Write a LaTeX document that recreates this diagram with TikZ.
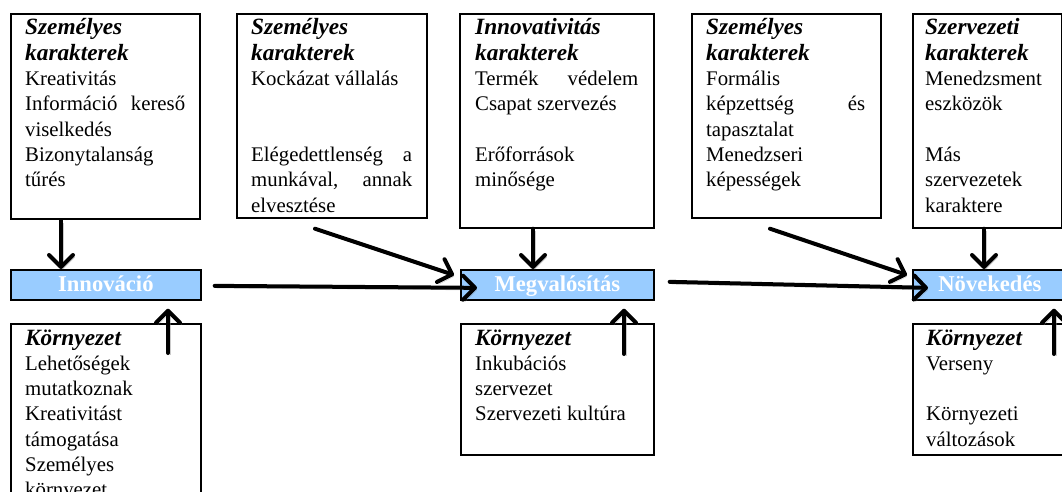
\documentclass[tikz,border=0pt]{standalone}
\usepackage{fontspec}
\setmainfont{Liberation Serif}
\usetikzlibrary{arrows.meta}
\setlength{\parindent}{0pt}
\definecolor{procblue}{RGB}{153,204,255}
\newcommand{\bodyfont}{\fontsize{20.8}{25.3}\selectfont}
\newcommand{\ttl}[1]{{\fontsize{23.3}{25.3}\selectfont\bfseries\itshape #1}}
\tikzset{
  box/.style={draw=black, line width=1.7pt, fill=white, anchor=north west, inner sep=0pt},
  proc/.style={draw=black, line width=1.7pt, fill=procblue, anchor=north west, inner sep=0pt,
    text=white, font=\fontsize{22.6}{24}\selectfont\bfseries, text height=15pt, text depth=2pt},
  txt/.style={anchor=base west, inner sep=0pt, font=\bodyfont, text=black},
  arr/.style={line width=4pt, line cap=round,
    -{Straight Barb[length=12pt,width=24pt,line cap=round,line join=round]},
    preaction={draw=black!45, opacity=0.45, transform canvas={shift={(1.8,2.2)}}}}
}
\begin{document}
\begin{tikzpicture}[x=1pt,y=-1pt]
\clip (0,0) rectangle (1062,492);
\fill[white] (0,0) rectangle (1062,492);
% top boxes
\node[box, minimum width=189pt, minimum height=205pt] (t1) at (10,13) {};
\node[box, minimum width=190pt, minimum height=204pt] (t2) at (236,13) {};
\node[box, minimum width=194pt, minimum height=214pt] (t3) at (459,13) {};
\node[box, minimum width=189pt, minimum height=204pt] (t4) at (691,13) {};
\node[box, minimum width=149pt, minimum height=214pt] (t5) at (912,13) {};
% process boxes
\node[proc, minimum width=190pt, minimum height=30pt] (p1) at (10,269) {Innováció};
\node[proc, minimum width=193pt, minimum height=30pt] (p2) at (460,269) {Megvalósítás};
\node[proc, minimum width=154pt, minimum height=30pt] (p3) at (912,269) {Növekedés};
% bottom boxes
\node[box, minimum width=190pt, minimum height=200pt] (b1) at (10,323) {};
\node[box, minimum width=193pt, minimum height=131pt] (b2) at (460,323) {};
\node[box, minimum width=154pt, minimum height=131pt] (b3) at (912,323) {};
% texts
\node[txt] (t1x) at (25,35) {\parbox[t]{160pt}{\ttl{Személyes}\\\ttl{karakterek}\\Kreativitás\\Információ\hfill kereső\\viselkedés\\Bizonytalanság\\tűrés}};
\node[txt] (t2x) at (251,35) {\parbox[t]{161pt}{\ttl{Személyes}\\\ttl{karakterek}\\Kockázat vállalás\\[50.6pt]Elégedettlenség\hfill a\\munkával,\hfill annak\\elvesztése}};
\node[txt] (t3x) at (475,35) {\parbox[t]{163pt}{\ttl{Innovativitás}\\\ttl{karakterek}\\Termék\hfill védelem\\Csapat szervezés\\[25.3pt]Erőforrások\\minősége}};
\node[txt] (t4x) at (706,35) {\parbox[t]{159pt}{\ttl{Személyes}\\\ttl{karakterek}\\Formális\\képzettség\hfill és\\tapasztalat\\Menedzseri\\képességek}};
\node[txt] (t5x) at (925,35) {\parbox[t]{130pt}{\ttl{Szervezeti}\\\ttl{karakterek}\\Menedzsment\\eszközök\\[25.3pt]Más\\szervezetek\\karaktere}};
\node[txt] (b1x) at (25,345) {\parbox[t]{160pt}{\ttl{Környezet}\\Lehetőségek\\mutatkoznak\\Kreativitást\\támogatása\\Személyes\\környezet}};
\node[txt] (b2x) at (475,345) {\parbox[t]{163pt}{\ttl{Környezet}\\Inkubációs\\szervezet\\Szervezeti kultúra}};
\node[txt] (b3x) at (926,345) {\parbox[t]{130pt}{\ttl{Környezet}\\Verseny\\[25.3pt]Környezeti\\változások}};
% arrows down
\draw[arr] ([xshift=51pt,yshift=-1pt]t1.south west) -- ([xshift=51pt]p1.north west);
\draw[arr] ([xshift=74pt]t3.south west) -- ([xshift=73pt]p2.north west);
\draw[arr] ([xshift=72pt]t5.south west) -- ([xshift=72pt]p3.north west);
% diagonal arrows
\draw[arr] ([xshift=79pt,yshift=-10pt]t2.south west) -- ([xshift=-6pt,yshift=-6pt]p2.north west);
\draw[arr] ([xshift=79pt,yshift=-10pt]t4.south west) -- ([xshift=-5pt,yshift=-6pt]p3.north west);
% horizontal arrows
\draw[arr] ([xshift=13pt,yshift=-1pt]p1.east) -- ([xshift=17pt,yshift=-3pt]p2.west);
\draw[arr] ([xshift=15pt,yshift=3pt]p2.east) -- ([xshift=16pt,yshift=-3pt]p3.west);
% arrows up
\draw[arr] ([xshift=158pt,yshift=-30pt]b1.north west) -- ([xshift=158pt,yshift=-8pt]p1.south west);
\draw[arr] ([xshift=164pt,yshift=-31pt]b2.north west) -- ([xshift=164pt,yshift=-8pt]p2.south west);
\draw[arr] ([xshift=142pt,yshift=-31pt]b3.north west) -- ([xshift=142pt,yshift=-8pt]p3.south west);
\end{tikzpicture}
\end{document}
